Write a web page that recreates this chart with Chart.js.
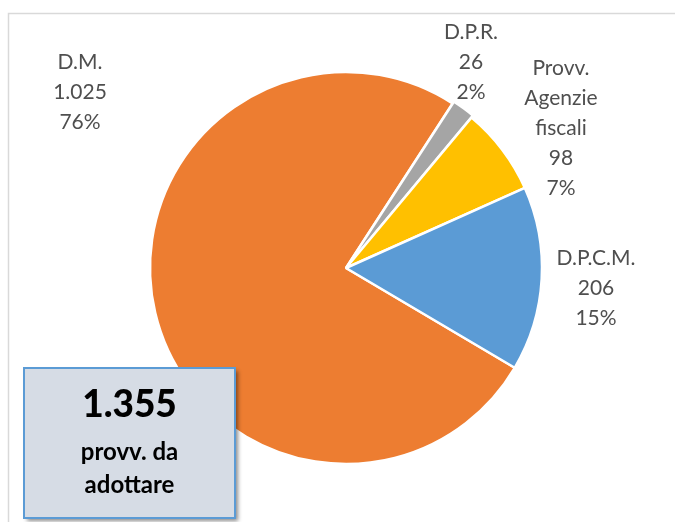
<!DOCTYPE html>
<html>
<head>
<meta charset="utf-8">
<script src="https://cdn.jsdelivr.net/npm/chart.js@4.4.0/dist/chart.umd.min.js"></script>
<style>
  html, body { margin: 0; padding: 0; background: #ffffff; }
  #wrap { position: relative; width: 675px; height: 522px; }
</style>
</head>
<body>
<div id="wrap"><canvas id="c" width="675" height="522"></canvas></div>
<script>
// ---- data ----
const categories = ["D.M.", "D.P.R.", "Provv. Agenzie fiscali", "D.P.C.M."];
const labelLines = [["D.M."], ["D.P.R."], ["Provv.", "Agenzie", "fiscali"], ["D.P.C.M."]];
const values = [1025, 26, 98, 206];
const colors = ["#ED7D31", "#A5A5A5", "#FFC000", "#5B9BD5"];
const totalCaption = ["provv. da", "adottare"];

function fmtIt(n) { return String(n).replace(/\B(?=(\d{3})+(?!\d))/g, "."); }
const total = values.reduce((a, b) => a + b, 0);

// label anchor positions (layout)
const labelPos = [
  { x: 80, y: 62 },
  { x: 471, y: 32 },
  { x: 561, y: 68 },
  { x: 596, y: 258 }
];
const LINE_H = 30;
const FONT = "Lato, 'Open Sans', sans-serif";

const framePlugin = {
  id: 'frame',
  beforeDraw(chart) {
    const ctx = chart.ctx;
    ctx.save();
    ctx.strokeStyle = '#d9d9d9';
    ctx.lineWidth = 1.5;
    ctx.beginPath();
    ctx.moveTo(8.5, 522);
    ctx.lineTo(8.5, 13.5);
    ctx.lineTo(675, 13.5);
    ctx.stroke();
    ctx.restore();
  }
};

const labelsPlugin = {
  id: 'outLabels',
  afterDraw(chart) {
    const ctx = chart.ctx;
    ctx.save();
    ctx.fillStyle = '#4f4f4f';
    ctx.font = "21px " + FONT;
    ctx.textAlign = 'center';
    ctx.textBaseline = 'middle';
    values.forEach((v, i) => {
      const lines = labelLines[i].concat([fmtIt(v), Math.round(v / total * 100) + "%"]);
      const p = labelPos[i];
      lines.forEach((t, k) => ctx.fillText(t, p.x, p.y + k * LINE_H));
    });

    // total box
    const bx = 24, by = 368, bw = 211, bh = 150;
    ctx.save();
    ctx.shadowColor = 'rgba(0,0,0,0.45)';
    ctx.shadowBlur = 4;
    ctx.shadowOffsetX = 3;
    ctx.shadowOffsetY = 3;
    ctx.fillStyle = '#D6DCE5';
    ctx.fillRect(bx, by, bw, bh);
    ctx.restore();
    ctx.strokeStyle = '#5B9BD5';
    ctx.lineWidth = 2;
    ctx.strokeRect(bx, by, bw, bh);
    ctx.fillStyle = '#000000';
    ctx.font = "900 37px " + FONT;
    ctx.fillText(fmtIt(total), bx + bw / 2, 405);
    ctx.font = "bold 24px " + FONT;
    ctx.fillText(totalCaption[0], bx + bw / 2, 452);
    ctx.fillText(totalCaption[1], bx + bw / 2, 485);
    ctx.restore();
  }
};

new Chart(document.getElementById('c'), {
  type: 'pie',
  data: {
    labels: categories,
    datasets: [{
      data: values,
      backgroundColor: colors,
      borderColor: '#ffffff',
      borderWidth: 2.5,
      offset: [0, 5, 0, 0],
      radius: 196
    }]
  },
  options: {
    responsive: false,
    animation: false,
    rotation: 120.6,
    layout: { padding: { left: 150, top: 72, right: 133, bottom: 58 } },
    plugins: { legend: { display: false }, tooltip: { enabled: false } }
  },
  plugins: [framePlugin, labelsPlugin]
});
</script>
</body>
</html>
